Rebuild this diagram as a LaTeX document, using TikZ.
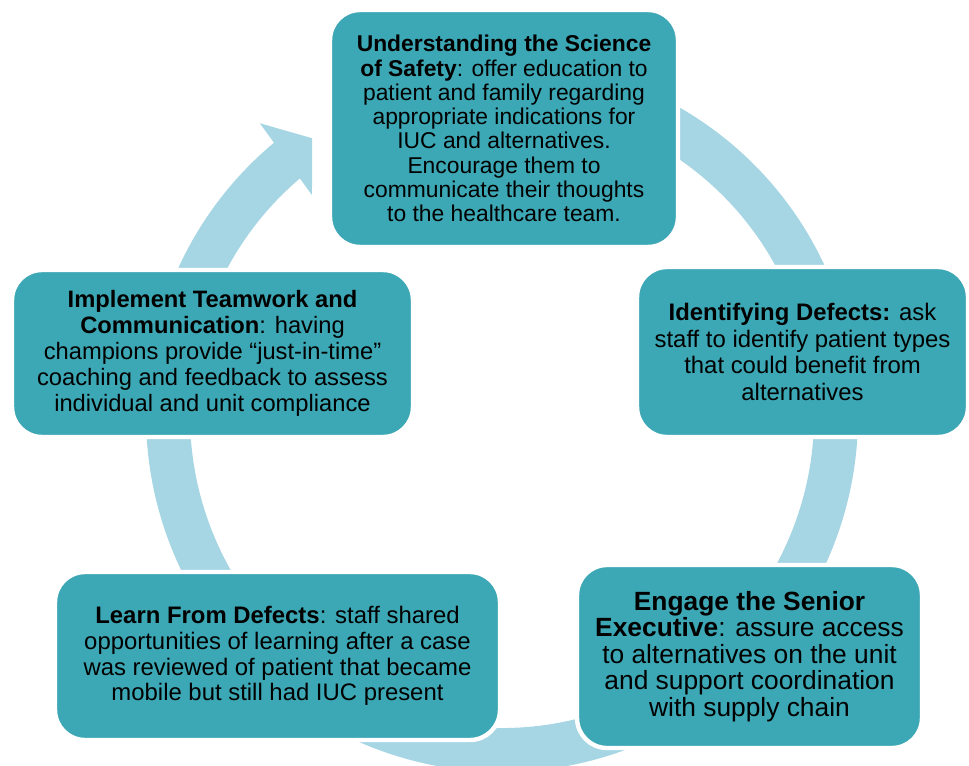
\documentclass[tikz,border=0pt]{standalone}
\usepackage{fontspec}
\setmainfont{Liberation Sans}
\usetikzlibrary{calc}
\definecolor{boxteal}{HTML}{3DA8B5}
\definecolor{ringblue}{HTML}{A6D6E3}
\newcommand*{\fsz}[2]{\fontsize{#1}{#2}\selectfont}

\begin{document}
\begin{tikzpicture}[x=0.02cm,y=-0.02cm,
  stage/.style={fill=boxteal,draw=white,line width=2.5pt,rounded corners=0.6cm,
    align=center,inner sep=0pt,outer sep=0pt,text=black}]
% Page is 969 by 766 pixels
\useasboundingbox (0,0) rectangle (969,766);
% Centre of the ring
\coordinate (ctr) at (502,416);
% Ring runs clockwise from behind the top box round to the head
\draw[ringblue,line width=0.88cm] ($(ctr)+(110:6.68cm)$)
  arc[start angle=110,end angle=-230.5,radius=6.68cm];
% Head of the ring arrow
\fill[ringblue] ($(ctr)+(129.6:7.6cm)$) -- ($(ctr)+(124.35:6.73cm)$)
  -- ($(ctr)+(130.7:5.83cm)$) -- cycle;
% The five stages, clockwise from the top
\node[stage,font=\fsz{13}{13.8},minimum width=6.96cm,minimum height=4.74cm]
  (science) at (504,128.5)
  {\textbf{Understanding the Science}\\
   \textbf{of Safety}: offer education to\\
   patient and family regarding\\
   appropriate indications for\\
   IUC and alternatives.\\
   Encourage them to\\
   communicate their thoughts\\
   to the healthcare team.};
\node[stage,font=\fsz{13.6}{15.3},minimum width=6.62cm,minimum height=3.40cm]
  (identify) at (802.5,352)
  {\textbf{Identifying Defects:} ask\\
   staff to identify patient types\\
   that could benefit from\\
   alternatives};
\node[stage,font=\fsz{15}{15.1},minimum width=6.90cm,minimum height=3.66cm]
  (engage) at (749.5,656.5)
  {\textbf{Engage the Senior}\\
   \textbf{Executive}: assure access\\
   to alternatives on the unit\\
   and support coordination\\
   with supply chain};
\node[stage,font=\fsz{13.6}{14.7},minimum width=8.90cm,minimum height=3.36cm]
  (learn) at (277.5,656)
  {\textbf{Learn From Defects}: staff shared\\
   opportunities of learning after a case\\
   was reviewed of patient that became\\
   mobile but still had IUC present};
\node[stage,font=\fsz{13.5}{14.7},minimum width=8.02cm,minimum height=3.34cm]
  (teamwork) at (212.5,353.5)
  {\textbf{Implement Teamwork and}\\
   \textbf{Communication}: having\\
   champions provide “just-in-time”\\
   coaching and feedback to assess\\
   individual and unit compliance};
\end{tikzpicture}
\end{document}
